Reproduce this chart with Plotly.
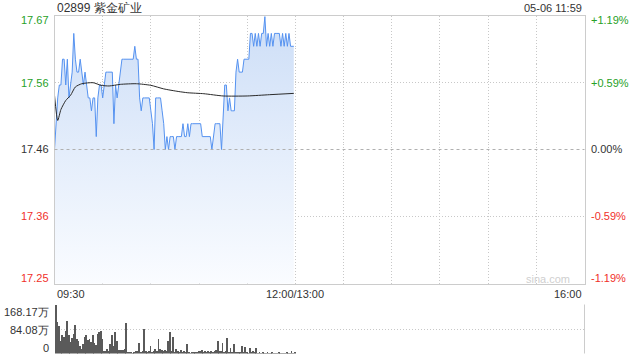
import plotly.graph_objects as go

# ---------------- data ----------------
title_text = "02899 紫金矿业"
time_stamp = "05-06 11:59"
prev_close = 17.46
pct_limit = 0.0119

time_tick_labels = ["09:30", "12:00/13:00", "16:00"]
time_tick_minutes = [0, 150, 330]
total_minutes = 330

price_labels = ["17.67", "17.56", "17.46", "17.36", "17.25"]
pct_labels = ["+1.19%", "+0.59%", "0.00%", "-0.59%", "-1.19%"]
volume_labels = ["168.17万", "84.08万", "0"]
volume_max = 168.17
volume_mid = 84.08

# minute price (minutes after 09:30)
price = [
    17.46, 17.50, 17.54, 17.56, 17.56, 17.60, 17.60, 17.56, 17.60, 17.54,
    17.56, 17.58, 17.64, 17.60, 17.58, 17.58, 17.60, 17.58, 17.56, 17.58,
    17.56, 17.54, 17.54, 17.52, 17.54, 17.54, 17.48, 17.54, 17.56, 17.56,
    17.54, 17.56, 17.58, 17.58, 17.58, 17.58, 17.58, 17.50, 17.56, 17.54,
    17.56, 17.58, 17.60, 17.60, 17.60, 17.60, 17.60, 17.60, 17.60, 17.60,
    17.62, 17.60, 17.60, 17.54, 17.52, 17.54, 17.54, 17.54, 17.54, 17.54,
    17.52, 17.50, 17.46, 17.54, 17.54, 17.54, 17.54, 17.52, 17.50, 17.46,
    17.48, 17.46, 17.48, 17.48, 17.48, 17.46, 17.48, 17.48, 17.48, 17.48,
    17.50, 17.48, 17.48, 17.50, 17.48, 17.50, 17.50, 17.50, 17.50, 17.50,
    17.50, 17.50, 17.48, 17.48, 17.48, 17.48, 17.48, 17.48, 17.46, 17.48,
    17.50, 17.50, 17.50, 17.50, 17.46, 17.52, 17.56, 17.56, 17.52, 17.54,
    17.52, 17.52, 17.52, 17.58, 17.60, 17.58, 17.58, 17.58, 17.60, 17.60,
    17.60, 17.60, 17.64, 17.64, 17.62, 17.64, 17.62, 17.64, 17.62, 17.64,
    17.64, 17.666, 17.62, 17.64, 17.62, 17.64, 17.62, 17.64, 17.64, 17.64,
    17.64, 17.62, 17.64, 17.62, 17.64, 17.62, 17.64, 17.62, 17.62, 17.62,
]
price_minutes = list(range(len(price)))

# average price line vertices
avg_minutes = [0, 2, 4, 7, 10, 13, 17, 24, 29, 34, 41, 51, 60, 68, 77, 83, 93, 105, 120, 134, 149]
avg_price = [17.544, 17.505, 17.522, 17.536, 17.544, 17.557, 17.562, 17.5636, 17.5595, 17.5585,
             17.561, 17.562, 17.5595, 17.554, 17.550, 17.548, 17.5465, 17.543, 17.543, 17.545, 17.547]

# minute volume (万)
volume = [
    168, 110, 95, 44, 64, 58, 79, 113, 64, 41,
    56, 70, 99, 52, 46, 29, 17, 35, 58, 64,
    49, 53, 41, 64, 37, 32, 70, 75, 79, 52,
    12, 12, 17, 12, 35, 64, 29, 75, 44, 14,
    14, 14, 14, 17, 107, 6, 6, 6, 2, 6,
    12, 9, 37, 6, 12, 85, 9, 6, 12, 29,
    6, 9, 17, 12, 53, 17, 14, 9, 15, 9,
    43, 75, 9, 60, 6, 17, 12, 6, 14, 6,
    9, 5, 35, 5, 2, 5, 5, 5, 6, 12,
    9, 14, 7, 12, 5, 9, 5, 12, 5, 9,
    14, 43, 12, 9, 37, 5, 9, 56, 5, 19,
    5, 34, 5, 7, 5, 5, 29, 5, 23, 7,
    2, 21, 5, 9, 5, 21, 2, 5, 2, 5,
    2, 2, 5, 3, 2, 5, 2, 3, 2, 5,
    2, 3, 2, 3, 5, 2, 3, 12, 3, 4,
]
volume_minutes = list(range(len(volume)))

# ---------------- layout geometry ----------------
W, H = 640, 360
x0, x1 = 54.5, 584.5
p_top, p_bot = 15.5, 283.5
v_top, v_bot = 304.5, 353.5

def py(v):
    return 1 - v / H

lo = prev_close * (1 - pct_limit)
hi = prev_close * (1 + pct_limit)
mid_hi = prev_close * (1 + pct_limit / 2)
mid_lo = prev_close * (1 - pct_limit / 2)

GREEN = "#27a127"
RED = "#f0302a"
DARK = "#333333"
FONT = "Liberation Sans, Arial, sans-serif"

fig = go.Figure()

fig.add_trace(go.Scatter(
    x=price_minutes, y=price, mode="lines",
    line=dict(color="#5592f0", width=1),
    fill="tozeroy",
    fillgradient=dict(type="vertical",
                      colorscale=[[0, "rgba(250,252,255,1)"], [1, "rgba(205,222,247,1)"]],
                      start=lo, stop=max(price)),
    hoverinfo="skip", xaxis="x", yaxis="y",
))
fig.add_trace(go.Scatter(
    x=avg_minutes, y=avg_price, mode="lines",
    line=dict(color="#2a2a2a", width=1, shape="spline", smoothing=0.6),
    hoverinfo="skip", xaxis="x", yaxis="y",
))
fig.add_trace(go.Bar(
    x=volume_minutes, y=volume, width=0.5,
    marker=dict(color="#5a5a5a", line=dict(width=0)),
    hoverinfo="skip", xaxis="x2", yaxis="y2",
))

grid = dict(showgrid=True, gridcolor="#c8c8c8", griddash="1px,2px", gridwidth=1,
            showticklabels=False, ticks="", zeroline=False)

fig.update_layout(
    width=W, height=H, margin=dict(l=0, r=0, t=0, b=0),
    paper_bgcolor="white", plot_bgcolor="white", showlegend=False,
    bargap=0,
    xaxis=dict(domain=[x0 / W, x1 / W], range=[0, total_minutes],
               tickvals=list(range(0, total_minutes + 1, 30)), anchor="y",
               showline=True, mirror=True, linecolor="#cccccc", linewidth=1, **grid),
    yaxis=dict(domain=[py(p_bot), py(p_top)], range=[lo, hi], anchor="x",
               tickvals=[mid_lo, mid_hi],
               showline=True, mirror=True, linecolor="#cccccc", linewidth=1, **grid),
    xaxis2=dict(domain=[x0 / W, x1 / W], range=[-0.5, total_minutes], anchor="y2",
                showgrid=False, showticklabels=False, ticks="", zeroline=False, showline=False),
    yaxis2=dict(domain=[py(v_bot), py(v_top)], range=[0, volume_max], anchor="x2",
                tickvals=[0, volume_mid, volume_max], **grid),
)

# prev close dashed line
fig.add_shape(type="line", xref="x domain", yref="y", x0=0, x1=1, y0=prev_close, y1=prev_close,
              line=dict(color="#b0b0b0", width=1, dash="3px,3px"))
# volume right border
fig.add_shape(type="line", xref="x2 domain", yref="y2 domain", x0=1, x1=1, y0=0, y1=1,
              line=dict(color="#cccccc", width=1))

ann = []
def text(x, y, s, color=DARK, size=11, xanchor="left", yanchor="middle"):
    ann.append(dict(x=x / W, y=py(y), xref="paper", yref="paper", text=s, showarrow=False,
                    font=dict(family=FONT, size=size, color=color),
                    xanchor=xanchor, yanchor=yanchor, xshift=0, yshift=0))

text(55, 7.5, title_text, size=12)
text(584, 7.5, time_stamp, xanchor="right")

price_label_y = [20, 83, 149.3, 216, 278]
price_colors = [GREEN, GREEN, DARK, RED, RED]
for s, yy, c in zip(price_labels, price_label_y, price_colors):
    text(51, yy, s, color=c, xanchor="right")
for s, yy, c in zip(pct_labels, price_label_y, price_colors):
    text(589, yy, s, color=c, xanchor="left")

text(55, 294, time_tick_labels[0])
text(294.5, 294, time_tick_labels[1], xanchor="center")
text(584, 294, time_tick_labels[2], xanchor="right")

for s, yy in zip(volume_labels, [311.5, 330, 348.3]):
    text(51, yy, s, xanchor="right")

text(548, 278.5, "sina.com", color="#cfcfcf", size=11, xanchor="center")

fig.update_layout(annotations=ann)
fig.write_html("out.html")
